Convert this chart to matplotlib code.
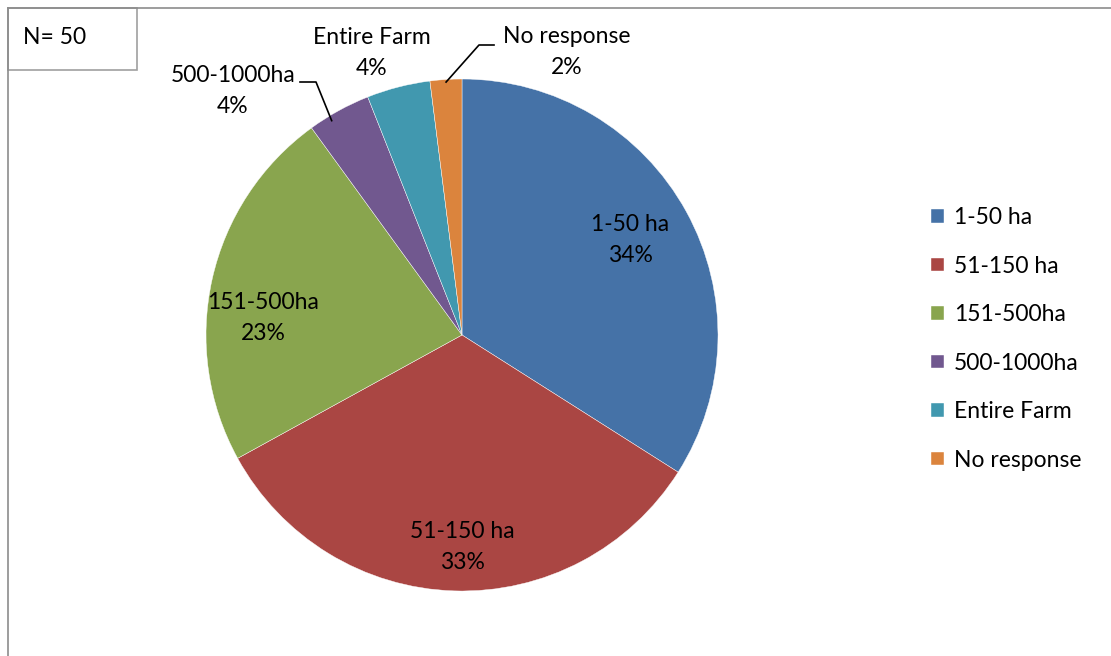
import numpy as np
import matplotlib.pyplot as plt
from matplotlib.patches import Rectangle

plt.rcParams['font.family'] = ['Lato', 'DejaVu Sans']

categories = ['1-50 ha', '51-150 ha', '151-500ha', '500-1000ha', 'Entire Farm', 'No response']
shares = [34, 33, 23, 4, 4, 2]  # percent of respondents
colors = ['#4572A7', '#AA4643', '#89A54E', '#71588F', '#4198AF', '#DB843D']
n_label = 'N= 50'

# label centres, in pixels from the top-left corner
label_pos = [(630, 240), (462, 547), (263, 318), (233, 91), (372, 53), (567, 52)]

W, H = 1111, 656
FS = 16.5
fig = plt.figure(figsize=(W / 100, H / 100), dpi=100)
ax = fig.add_axes([0, 0, 1, 1])

cx, cy, R = 462, H - 335, 256
wedges, _ = ax.pie(shares, colors=colors, startangle=90, counterclock=False,
                   center=(cx, cy), radius=R, frame=True,
                   wedgeprops=dict(edgecolor='white', linewidth=0.3))
ax.set_xlim(0, W)
ax.set_ylim(0, H)
ax.set_aspect('equal')
ax.axis('off')

# chart frame (only top and left visible in the crop)
ax.plot([8, W], [H - 8, H - 8], color='#8c8c8c', lw=1.2)
ax.plot([8, 8], [0, H - 8], color='#8c8c8c', lw=1.2)
ax.add_patch(Rectangle((8, H - 70), 129, 62, facecolor='white', edgecolor='#a0a0a0', lw=1.2))
ax.text(23, H - 38, n_label, fontsize=FS, va='center', ha='left')

for i, (px, py) in enumerate(label_pos):
    ax.text(px, H - py, f'{categories[i]}\n{shares[i]}%', ha='center', va='center',
            fontsize=FS, linespacing=1.6)

fracs = np.array(shares) / sum(shares)
mids = 90 - (np.cumsum(fracs) - fracs / 2) * 360

def edge(i, rr=0.99, shift=0.0):
    a = np.deg2rad(mids[i] + shift)
    return cx + rr * R * np.cos(a), cy + rr * R * np.sin(a)

# leader lines for 500-1000ha and No response
ex, ey = edge(3, 0.98, 2.5)
ax.plot([ex, 316, 300], [ey, H - 82, H - 82], color='black', lw=1.2)
ex, ey = edge(5)
ax.plot([ex, 479, 494], [ey, H - 45, H - 45], color='black', lw=1.2)

ax.legend(wedges, categories, loc='upper left', bbox_to_anchor=(922 / W, 1 - 198 / H),
          frameon=False, fontsize=FS, handlelength=0.55, handleheight=0.55,
          handletextpad=0.45, labelspacing=1.2, borderaxespad=0)

fig.savefig('out.png', dpi=100)
